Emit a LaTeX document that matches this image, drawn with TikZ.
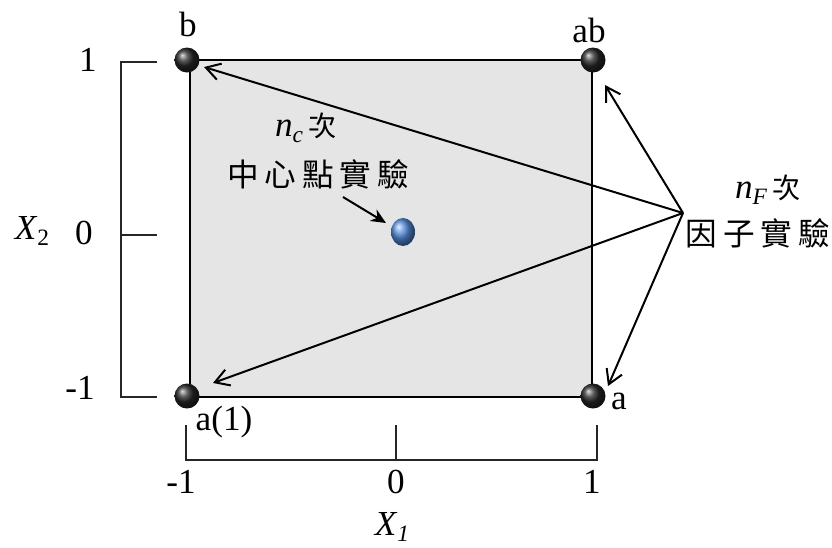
\documentclass[tikz,border=0pt]{standalone}
\usepackage{fontspec}
\setmainfont{Liberation Serif}
\newfontfamily\cjk{Noto Sans CJK TC}
\usetikzlibrary{arrows.meta,shapes.geometric}
\definecolor{ptblue}{RGB}{85,140,220}
\tikzset{
  lab/.style={inner sep=0pt, font=\fontsize{30}{34}\selectfont},
  cjklab/.style={inner sep=0pt, font=\fontsize{27}{30}\selectfont\cjk},
  ballnode/.style={circle, minimum size=0.75cm, inner sep=0pt, ball color=black!85},
  axisline/.style={line width=1pt, black!85},
  arr/.style={line width=1.7pt, -{Straight Barb[length=0.42cm, width=0.5cm, line width=1.7pt]}},
}
\newcommand{\subtxt}[1]{\raisebox{-0.35ex}{\fontsize{20}{22}\selectfont #1}}
\begin{document}
\begin{tikzpicture}[x=0.03cm, y=-0.03cm]
\useasboundingbox (0,0) rectangle (832,547);
% square
\fill[black!10] (190,60) rectangle (592,397);
\draw[line width=1.3pt] (190,60) rectangle (592,397);
% corner points
\node[ballnode] (b) at (187,60) {};
\node[ballnode] (ab) at (593,60) {};
\node[ballnode] (a1) at (187,396) {};
\node[ballnode] (a) at (593,396) {};
% corner labels
\node[lab] (lb) at (188,24) {b};
\node[lab] (lab) at (589,30) {ab};
\node[lab] (la) at (619,401) {a};
\node[lab] (la1) at (224,422) {a(1)};
% center point
\node[ellipse, minimum width=0.72cm, minimum height=0.84cm, inner sep=0pt, ball color=ptblue] (c) at (403,232) {};
% left axis
\coordinate (l1) at (121,62);
\coordinate (l2) at (121,397);
\coordinate (t1) at (157,62);
\coordinate (t0) at (157,235);
\coordinate (t2) at (157,397);
\draw[axisline] (t1) -- (l1) -- (l2) -- (t2);
\draw[axisline] (121,235) -- (t0);
\node[lab] (y1) at (88,60) {1};
\node[lab] (y0) at (84,233) {0};
\node[lab] (ym1) at (80,388) {-1};
\node[lab] (x2) at (32,231) {\textit{X}\subtxt{2}};
% bottom axis
\coordinate (b1) at (186,425);
\coordinate (b2) at (597,425);
\coordinate (b0) at (396,425);
\draw[axisline] (b1) -- (186,460) -- (597,460) -- (b2);
\draw[axisline] (b0) -- (396,460);
\node[lab] (xm1) at (181,482) {-1};
\node[lab] (x0) at (396,482) {0};
\node[lab] (xp1) at (592,482) {1};
\node[lab] (x1) at (392,527) {\textit{X}\subtxt{\itshape 1}};
% center label
\node[lab] (nc) at (306,128) {\textit{n}\subtxt{\itshape c}\,{\cjk\fontsize{24}{26}\selectfont 次}};
\node[cjklab] (ct) at (318,174) {中\hspace{5pt}心\hspace{5pt}點\hspace{5pt}實\hspace{5pt}驗};
\coordinate (cs) at (343,197);
\coordinate (ce) at (386,223);
\draw[line width=1.7pt, -{Stealth[length=0.45cm, width=0.4cm]}] (cs) -- (ce);
% factorial label
\node[lab] (nf) at (768,190) {\textit{n}\subtxt{\itshape F}\,{\cjk\fontsize{24}{26}\selectfont 次}};
\node[cjklab] (ft) at (758,233) {因\hspace{5pt}子\hspace{5pt}實\hspace{5pt}驗};
\coordinate (apex) at (683,213);
\coordinate (tb) at (204,67);
\coordinate (tab) at (605,85);
\coordinate (ta1) at (213,383);
\coordinate (ta) at (608,386);
\draw[arr] (apex) -- (tb);
\draw[arr] (apex) -- (tab);
\draw[arr] (apex) -- (ta1);
\draw[arr] (apex) -- (ta);
\end{tikzpicture}
\end{document}
